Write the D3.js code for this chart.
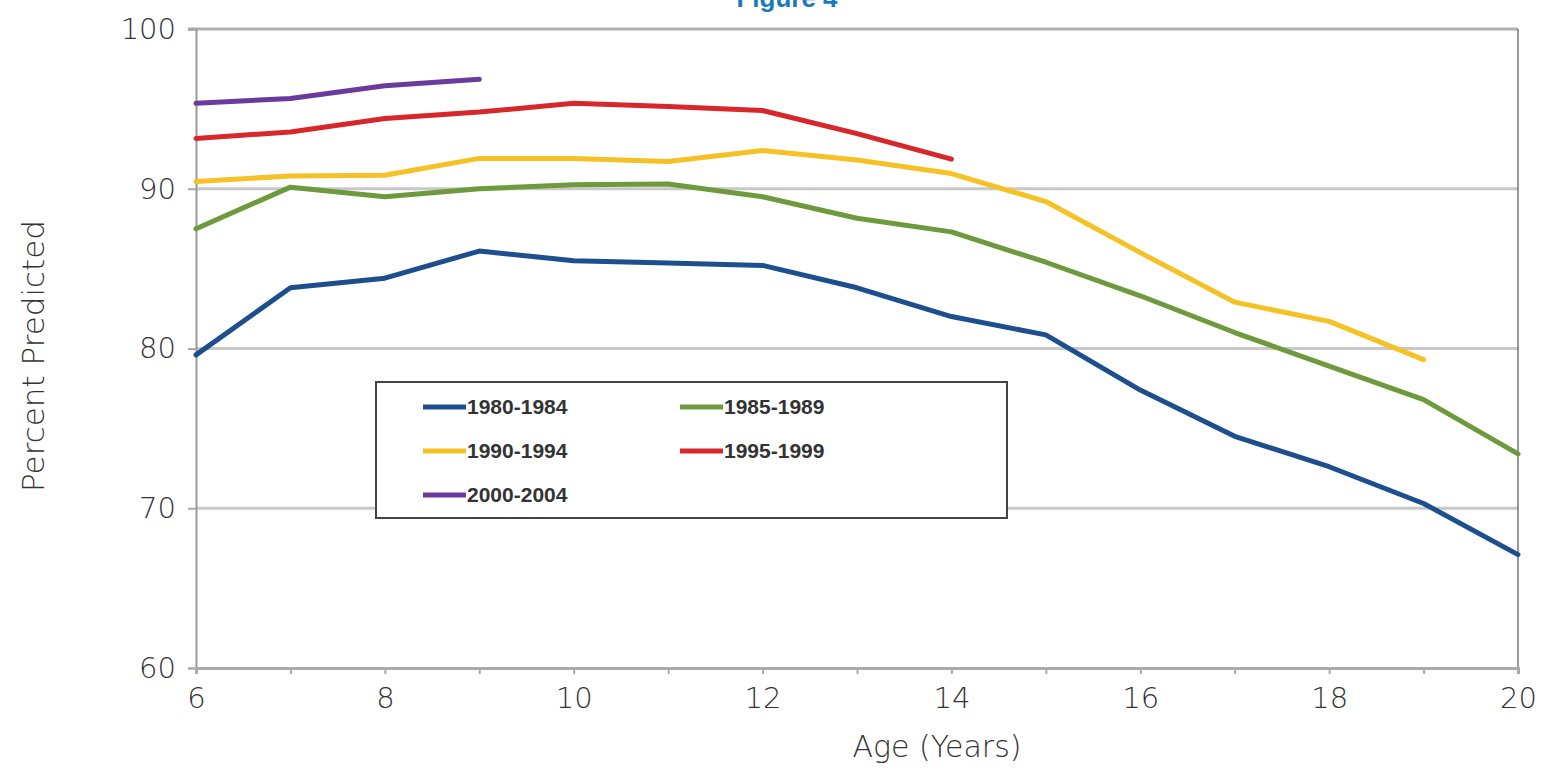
<!DOCTYPE html>
<html><head><meta charset="utf-8">
<script src="https://cdn.jsdelivr.net/npm/d3@7"></script>
<style>body{margin:0;background:#fff;} svg{display:block;}</style>
</head><body>
<svg id="chart" width="1543" height="770"></svg>
<script>
const ages = [6,7,8,9,10,11,12,13,14,15,16,17,18,19,20];
const seriesNames = ["1980-1984","1985-1989","1990-1994","1995-1999","2000-2004"];
const seriesColors = ["#1d4f8f","#6d9a3c","#f5c125","#d8272b","#6b3a9c"];
const v1980 = [79.6,83.8,84.4,86.1,85.5,85.35,85.2,83.8,82.0,80.85,77.4,74.5,72.6,70.3,67.1];
const v1985 = [87.5,90.1,89.5,90.0,90.25,90.3,89.5,88.15,87.3,85.4,83.3,81.0,78.9,76.8,73.4];
const v1990 = [90.45,90.8,90.85,91.9,91.9,91.7,92.4,91.8,90.95,89.2,86.0,82.9,81.7,79.3];
const v1995 = [93.15,93.55,94.4,94.8,95.35,95.15,94.9,93.45,91.85];
const v2000 = [95.35,95.65,96.45,96.85];
const yTicks = [60,70,80,90,100];
const xTicks = [6,8,10,12,14,16,18,20];
const allValues = [v1980,v1985,v1990,v1995,v2000];

const svg = d3.select("#chart");
const L=196, R=1518, T=29, B=668;
const x = d3.scaleLinear().domain([6,20]).range([L,R]);
const y = d3.scaleLinear().domain([60,100]).range([B,T]);
const font = "'DejaVu Sans', sans-serif";

// title (cut off at top, as in the reference)
svg.append("text").attr("x",787).attr("y",7).attr("text-anchor","middle")
  .attr("font-family","'Liberation Sans', Arial, sans-serif").attr("font-weight","bold")
  .attr("font-size",26).attr("fill","#1b78bd").text("Figure 4");

// gridlines
svg.append("g").selectAll("line").data([70,80,90]).join("line")
  .attr("x1",L).attr("x2",R).attr("y1",d=>y(d)).attr("y2",d=>y(d))
  .attr("stroke","#c8c8c8").attr("stroke-width",3);
// top border
svg.append("line").attr("x1",L-8).attr("x2",R).attr("y1",y(100)).attr("y2",y(100))
  .attr("stroke","#b0b0b0").attr("stroke-width",3);
// right border
svg.append("line").attr("x1",R).attr("x2",R).attr("y1",T).attr("y2",B)
  .attr("stroke","#555").attr("stroke-width",1.2);

// axes
const yAxis = svg.append("g").attr("transform",`translate(${L},0)`)
  .call(d3.axisLeft(y).tickValues(yTicks).tickSize(8).tickPadding(12));
const xAxis = svg.append("g").attr("transform",`translate(0,${B})`)
  .call(d3.axisBottom(x).tickValues(d3.range(6,21,1)).tickSize(6).tickPadding(8)
    .tickFormat(d=>xTicks.includes(d)?d:""));
yAxis.select(".domain").attr("stroke","#999").attr("stroke-width",2);
xAxis.select(".domain").attr("stroke","#aaa").attr("stroke-width",3);
[yAxis,xAxis].forEach(a=>{
  a.selectAll(".tick line").attr("stroke","#aaa").attr("stroke-width",2);
  a.selectAll("text").attr("font-family",font).attr("font-weight",200)
    .attr("font-size",29).attr("fill","#333");
});
xAxis.selectAll("text").attr("dy","0.9em");
yAxis.selectAll("text").attr("dy","0.32em");

// axis titles
svg.append("text").attr("x",937).attr("y",757).attr("text-anchor","middle")
  .attr("font-family",font).attr("font-weight",200).attr("font-size",30).attr("fill","#333")
  .text("Age (Years)");
svg.append("text").attr("transform","translate(44,356) rotate(-90)").attr("text-anchor","middle")
  .attr("font-family",font).attr("font-weight",200).attr("font-size",31).attr("fill","#333")
  .text("Percent Predicted");

// lines
const line = d3.line().x((d,i)=>x(ages[i])).y(d=>y(d)).curve(d3.curveLinear);
svg.append("g").selectAll("path").data(allValues).join("path")
  .attr("d",d=>line(d)).attr("fill","none")
  .attr("stroke",(d,i)=>seriesColors[i]).attr("stroke-width",5)
  .attr("stroke-linejoin","round").attr("stroke-linecap","round");

// legend
const lg = svg.append("g");
lg.append("rect").attr("x",376).attr("y",382).attr("width",631).attr("height",136)
  .attr("fill","#fff").attr("stroke","#444").attr("stroke-width",2);
const pos = [[423,407],[680,407],[423,451],[680,451],[423,495]];
seriesNames.forEach((n,i)=>{
  const [px,py]=pos[i];
  lg.append("line").attr("x1",px).attr("x2",px+43).attr("y1",py).attr("y2",py)
    .attr("stroke",seriesColors[i]).attr("stroke-width",5);
  lg.append("text").attr("x",px+44).attr("y",py).attr("dy","0.35em")
    .attr("font-family","'Liberation Sans', Arial, sans-serif").attr("font-weight","bold")
    .attr("font-size",21).attr("fill","#333").text(n);
});
</script>
</body></html>
